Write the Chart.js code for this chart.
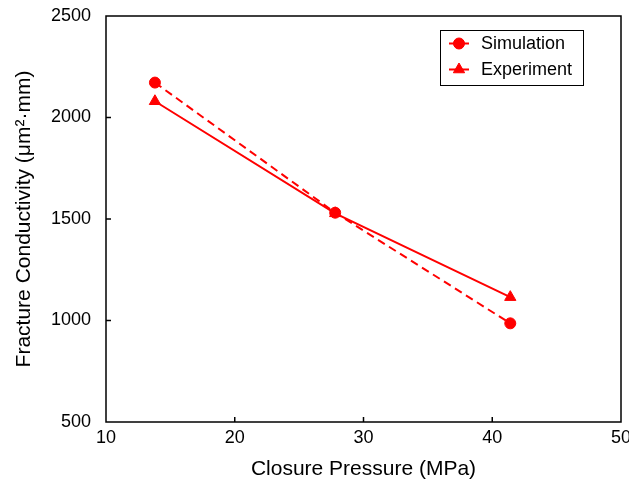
<!DOCTYPE html>
<html lang="en">
<head>
    <meta charset="UTF-8">
    <title>Fracture Conductivity vs Closure Pressure</title>
    <script src="https://cdn.jsdelivr.net/npm/chart.js"></script>
    <style>
        html, body { margin: 0; padding: 0; background: #fff; }
        #wrap { width: 629px; height: 482px; }
    </style>
</head>
<body>
    <div id="wrap"><canvas id="condChart"></canvas></div>

    <script>
        // data
        const pressure = [13.8, 27.8, 41.4];
        const simulation = [2172, 1531, 986];
        const experiment = [2080, 1528, 1115];
        const xTicks = [10, 20, 30, 40, 50];
        const yTicks = [500, 1000, 1500, 2000, 2500];

        const RED = '#ff0000';
        const FONT = '"Liberation Sans", Arial, Helvetica, sans-serif';

        const toPoints = (xs, ys) => xs.map((x, i) => ({ x: x, y: ys[i] }));

        // frame around the plot area plus small inward tick marks
        const framePlugin = {
            id: 'frame',
            afterDraw(chart) {
                const { ctx, chartArea: a, scales } = chart;
                ctx.save();
                ctx.strokeStyle = '#000';
                ctx.lineWidth = 1.5;
                ctx.strokeRect(a.left, a.top, a.right - a.left, a.bottom - a.top);
                ctx.beginPath();
                xTicks.slice(1, -1).forEach(v => {
                    const px = scales.x.getPixelForValue(v);
                    ctx.moveTo(px, a.bottom);
                    ctx.lineTo(px, a.bottom - 5);
                });
                yTicks.slice(1, -1).forEach(v => {
                    const py = scales.y.getPixelForValue(v);
                    ctx.moveTo(a.left, py);
                    ctx.lineTo(a.left + 5, py);
                });
                ctx.stroke();
                ctx.restore();
            }
        };

        // boxed legend with line + marker samples
        const boxLegend = {
            id: 'boxLegend',
            afterDraw(chart) {
                const { ctx } = chart;
                const x0 = 440, y0 = 30, w = 143, h = 55;
                ctx.save();
                ctx.fillStyle = '#fff';
                ctx.fillRect(x0, y0, w, h);
                ctx.strokeStyle = '#000';
                ctx.lineWidth = 1;
                ctx.strokeRect(x0 + 0.5, y0 + 0.5, w, h);
                chart.data.datasets.forEach((ds, i) => {
                    const cy = y0 + 13.5 + i * 26;
                    ctx.strokeStyle = ds.borderColor;
                    ctx.fillStyle = ds.backgroundColor;
                    ctx.lineWidth = 2;
                    ctx.setLineDash([]);
                    ctx.beginPath();
                    ctx.moveTo(449, cy);
                    ctx.lineTo(469, cy);
                    ctx.stroke();
                    ctx.lineWidth = 1;
                    Chart.helpers.drawPoint(ctx, {
                        pointStyle: ds.pointStyle,
                        radius: ds.pointRadius,
                        rotation: 0,
                        borderWidth: 1
                    }, 459, cy);
                    ctx.fillStyle = '#000';
                    ctx.font = '18px ' + FONT;
                    ctx.textBaseline = 'middle';
                    ctx.textAlign = 'left';
                    ctx.fillText(ds.label, 481, cy + 1);
                });
                ctx.restore();
            }
        };

        const plain = v => String(v);

        const ctx = document.getElementById('condChart').getContext('2d');
        new Chart(ctx, {
            type: 'scatter',
            data: {
                datasets: [{
                    label: 'Simulation',
                    data: toPoints(pressure, simulation),
                    showLine: true,
                    borderColor: RED,
                    backgroundColor: RED,
                    borderWidth: 2,
                    borderDash: [8, 5],
                    pointStyle: 'circle',
                    pointRadius: 5.5,
                    pointBorderWidth: 1
                }, {
                    label: 'Experiment',
                    data: toPoints(pressure, experiment),
                    showLine: true,
                    borderColor: RED,
                    backgroundColor: RED,
                    borderWidth: 2,
                    pointStyle: 'triangle',
                    pointRadius: 6.5,
                    pointBorderWidth: 1
                }]
            },
            options: {
                responsive: true,
                maintainAspectRatio: false,
                animation: false,
                layout: { padding: { top: 16, right: 8, left: 0, bottom: 0 } },
                plugins: {
                    legend: { display: false },
                    tooltip: { enabled: false }
                },
                scales: {
                    x: {
                        type: 'linear',
                        min: 10,
                        max: 50,
                        grid: { display: false, drawTicks: false, tickLength: 0 },
                        border: { display: false },
                        afterBuildTicks: s => { s.ticks = xTicks.map(v => ({ value: v })); },
                        afterFit: s => {
                            s.height = 60;
                            s.paddingLeft = 0;
                            s.paddingRight = 0;
                        },
                        ticks: {
                            color: '#000',
                            padding: 5,
                            callback: plain,
                            font: { family: FONT, size: 18 }
                        },
                        title: {
                            display: true,
                            text: 'Closure Pressure (MPa)',
                            color: '#000',
                            padding: { top: 0, bottom: 0 },
                            font: { family: FONT, size: 21 }
                        }
                    },
                    y: {
                        type: 'linear',
                        min: 500,
                        max: 2500,
                        grid: { display: false, drawTicks: false, tickLength: 0 },
                        border: { display: false },
                        afterBuildTicks: s => { s.ticks = yTicks.map(v => ({ value: v })); },
                        afterFit: s => {
                            s.width = 106;
                            s.paddingTop = 0;
                            s.paddingBottom = 0;
                        },
                        ticks: {
                            color: '#000',
                            padding: 15,
                            callback: plain,
                            font: { family: FONT, size: 18 }
                        },
                        title: {
                            display: true,
                            text: 'Fracture Conductivity (\u03bcm\u00b2\u00b7mm)',
                            color: '#000',
                            padding: { top: 12, bottom: 0 },
                            font: { family: FONT, size: 21 }
                        }
                    }
                }
            },
            plugins: [framePlugin, boxLegend]
        });
    </script>
</body>
</html>
